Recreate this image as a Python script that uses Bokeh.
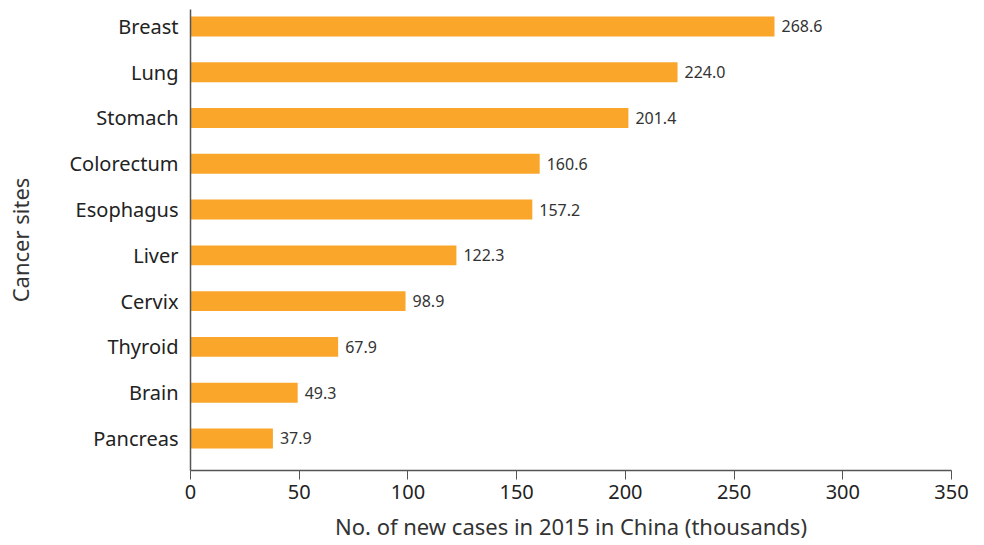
from bokeh.plotting import figure
from bokeh.models import Range1d, FixedTicker, ColumnDataSource
from bokeh.core.properties import value
from bokeh.embed import file_html
from bokeh.resources import INLINE

sites = ["Breast", "Lung", "Stomach", "Colorectum", "Esophagus", "Liver",
         "Cervix", "Thyroid", "Brain", "Pancreas"]
cases = [268.6, 224.0, 201.4, 160.6, 157.2, 122.3, 98.9, 67.9, 49.3, 37.9]
x_ticks = [0, 50, 100, 150, 200, 250, 300, 350]

n = len(sites)
ypos = [n - 1 - i for i in range(n)]
src = ColumnDataSource(dict(y=ypos, v=cases, site=sites,
                            lab=[f"{c:.1f}" for c in cases]))

FONT = "Noto Sans"
p = figure(width=976, height=543, output_backend="svg", toolbar_location=None,
           x_range=Range1d(0, 350), y_range=Range1d(-0.7, n - 1 + 0.37),
           min_border_left=190, min_border_top=9, min_border_right=25,
           min_border_bottom=72, outline_line_color=None)
p.background_fill_color = "white"
p.grid.visible = False

p.hbar(y="y", right="v", left=0, height=0.435, source=src,
       fill_color="#F9A62B", line_color=None)
p.text(x="v", y="y", text="lab", source=src, x_offset=7,
       text_align="left", text_baseline="middle",
       text_font=value(FONT), text_font_size="16px", text_color="#333333")

xa = p.xaxis[0]
xa.ticker = FixedTicker(ticks=x_ticks)
xa.axis_label = "No. of new cases in 2015 in China (thousands)"
xa.axis_label_text_font = FONT
xa.axis_label_text_font_size = "22px"
xa.axis_label_text_font_style = "normal"
xa.axis_label_text_color = "#333333"
xa.axis_label_standoff = 9
xa.major_label_text_font = FONT
xa.major_label_text_font_size = "20px"
xa.major_label_text_color = "#222222"
xa.major_label_standoff = 5
xa.major_tick_in = 0
xa.major_tick_out = 9
xa.minor_tick_line_color = None
xa.axis_line_color = "#555555"
xa.major_tick_line_color = "#555555"
xa.axis_line_width = 1.5

ya = p.yaxis[0]
ya.ticker = FixedTicker(ticks=ypos)
ya.major_label_overrides = {y: s for y, s in zip(ypos, sites)}
ya.axis_label = "Cancer sites"
ya.axis_label_text_font = FONT
ya.axis_label_text_font_size = "22px"
ya.axis_label_text_font_style = "normal"
ya.axis_label_text_color = "#333333"
ya.axis_label_standoff = 31
ya.major_label_text_font = FONT
ya.major_label_text_font_size = "20px"
ya.major_label_text_color = "#222222"
ya.major_label_standoff = 6
ya.major_tick_line_color = None
ya.minor_tick_line_color = None
ya.axis_line_color = "#555555"
ya.axis_line_width = 1.5

open("out.html", "w").write(file_html(p, INLINE))
